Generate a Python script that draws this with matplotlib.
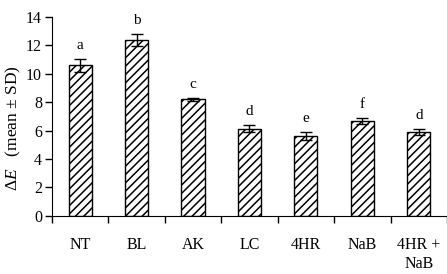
import numpy as np
import matplotlib
matplotlib.use('Agg')
from matplotlib import pyplot as plt

categories = ['NT', 'BL', 'AK', 'LC', '4HR', 'NaB', '4HR +\nNaB']
means = [10.6, 12.4, 8.2, 6.15, 5.65, 6.7, 5.9]
sds = [0.45, 0.42, 0.1, 0.27, 0.28, 0.22, 0.24]
letters = ['a', 'b', 'c', 'd', 'e', 'f', 'd']

plt.rcParams['font.family'] = ['Liberation Serif', 'DejaVu Serif']
plt.rcParams['mathtext.fontset'] = 'custom'
plt.rcParams['mathtext.rm'] = 'Liberation Serif'
plt.rcParams['mathtext.it'] = 'Liberation Serif:italic'
plt.rcParams['hatch.linewidth'] = 1.1

fig = plt.figure(figsize=(4.47, 2.74), dpi=100)
ax = fig.add_axes([0.116, 0.212, 0.884, 0.726])

x = np.arange(len(categories))
ax.bar(x, means, width=0.41, color='white', edgecolor='black', linewidth=1.0,
       hatch='////', yerr=sds, capsize=4,
       error_kw=dict(elinewidth=1, capthick=1, ecolor='black'))

# buchstaben ueber den balken
for xi, m, s, l in zip(x, means, sds, letters):
    ax.annotate(l, (xi, m + s), xytext=(0, 5), textcoords='offset points',
                ha='center', va='bottom', fontsize=11)

ax.set_xlim(-0.5, len(categories) - 0.5)
ax.set_ylim(0, 14)
ax.set_yticks(np.arange(0, 15, 2))
ax.tick_params(axis='y', direction='out', length=5, width=1, labelsize=11.5, pad=2)

ax.set_xticks(x)
ax.set_xticklabels(categories, fontsize=11.5, linespacing=1.3, va='top')
ax.tick_params(axis='x', which='major', length=0, pad=15)
ax.set_xticks(np.arange(-0.5, len(categories)), minor=True)
ax.tick_params(axis='x', which='minor', direction='out', length=5, width=1)

ax.spines['top'].set_visible(False)
ax.spines['right'].set_visible(False)

ax.set_ylabel('Δ$E$   (mean ± SD)', fontsize=12.5)
ax.yaxis.set_label_coords(-0.072, 0.44)

fig.savefig('out.png', dpi=100)
